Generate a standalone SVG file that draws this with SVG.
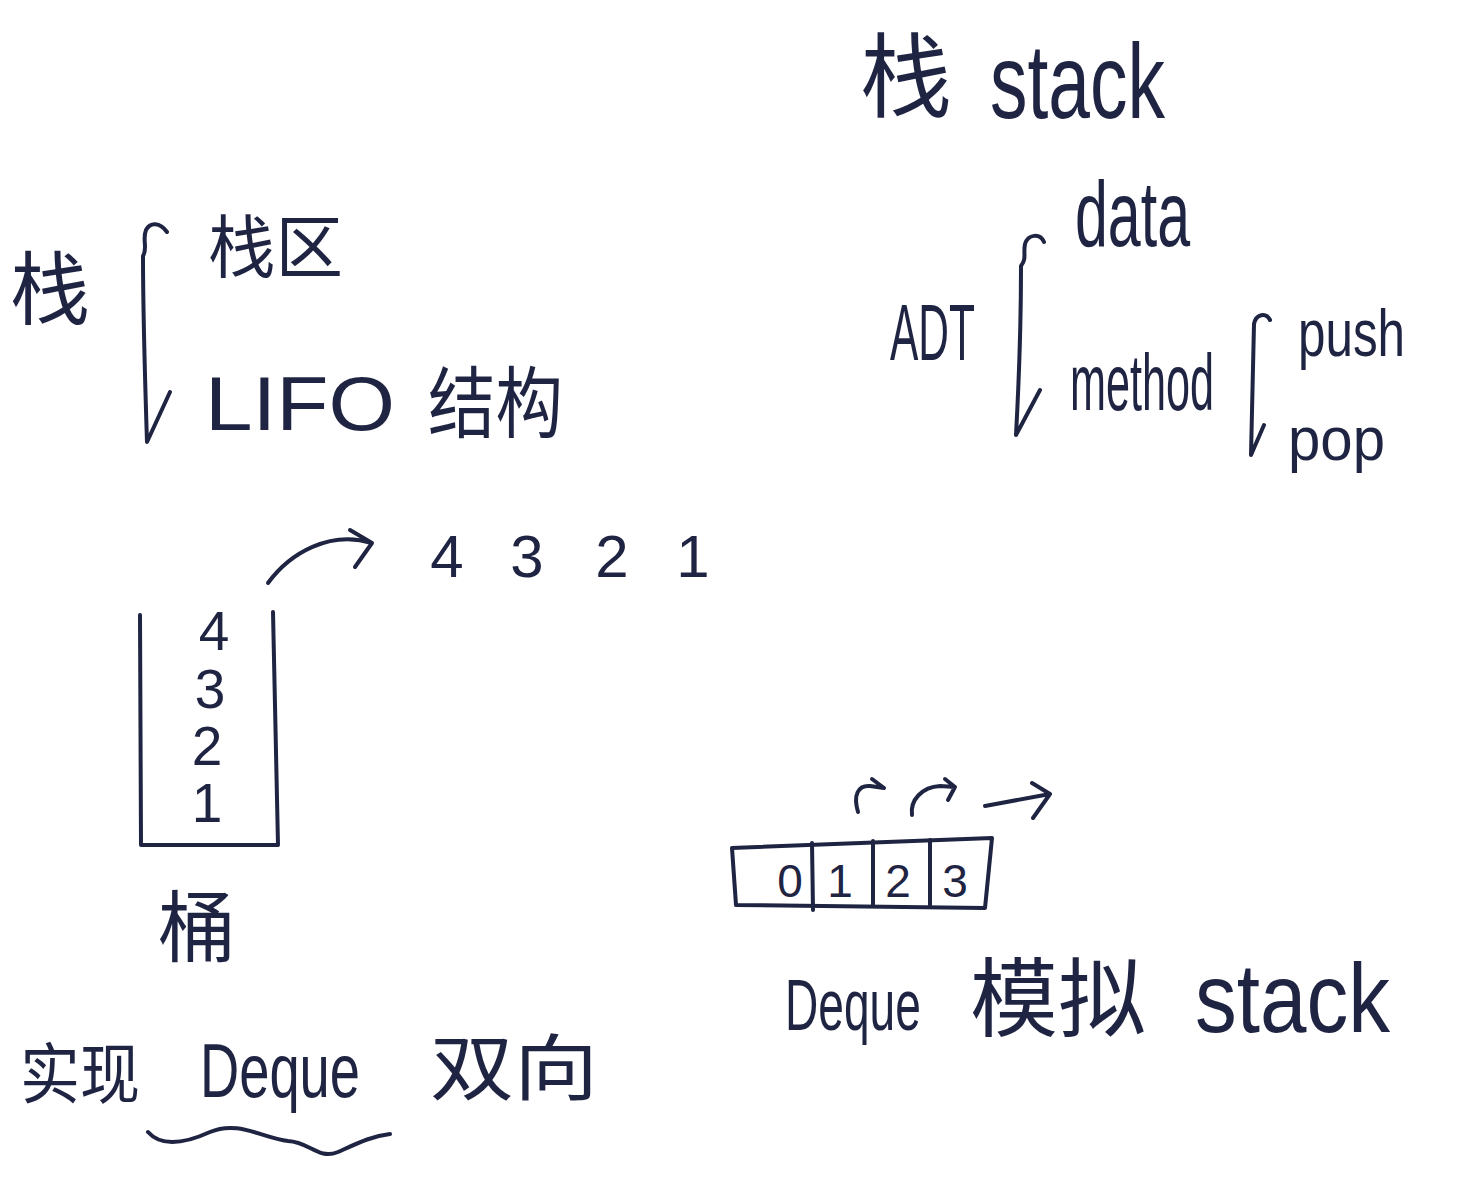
<svg xmlns="http://www.w3.org/2000/svg" width="1462" height="1202" viewBox="0 0 1462 1202">
<style>
.t{font-family:"Liberation Sans","Noto Sans CJK SC",sans-serif;fill:#1f2442}
.c{font-family:"Noto Sans CJK SC","Noto Sans CJK TC",sans-serif;fill:#1f2442}
.ln{fill:none;stroke:#1f2442;stroke-width:4;stroke-linecap:round;stroke-linejoin:round}
</style>
<rect width="1462" height="1202" fill="#ffffff"/>
<g id="title">
<text class="c" x="860" y="110" font-size="92">栈</text>
<text class="t" x="990" y="118" font-size="105" textLength="175" lengthAdjust="spacingAndGlyphs">stack</text>
</g>
<g id="stack-def">
<text class="c" x="10" y="318" font-size="80">栈</text>
<text class="c" x="208" y="272" font-size="68" textLength="135" lengthAdjust="spacingAndGlyphs">栈区</text>
<text class="t" x="205" y="430" font-size="76" textLength="190" lengthAdjust="spacingAndGlyphs">LIFO</text>
<text class="c" x="428" y="432" font-size="78" textLength="135" lengthAdjust="spacingAndGlyphs">结构</text>
</g>
<g id="adt">
<text class="t" x="890" y="360" font-size="80" textLength="85" lengthAdjust="spacingAndGlyphs">ADT</text>
<text class="t" x="1075" y="246" font-size="92" textLength="115" lengthAdjust="spacingAndGlyphs">data</text>
<text class="t" transform="translate(1070,410) scale(0.54,1)" font-size="80">method</text>
<text class="t" x="1298" y="356" font-size="66" textLength="107" lengthAdjust="spacingAndGlyphs">push</text>
<text class="t" x="1288" y="460" font-size="62" textLength="97" lengthAdjust="spacingAndGlyphs">pop</text>
</g>
<g id="sequence">
<text class="t" font-size="60" text-anchor="middle" y="577"><tspan x="447">4</tspan><tspan x="527">3</tspan><tspan x="612">2</tspan><tspan x="693">1</tspan></text>
</g>
<g id="bucket">
<path class="ln" d="M140,615 L141,845 L278,845 L273,612"/>
<text class="t" font-size="55" text-anchor="middle"><tspan x="214" y="650">4</tspan><tspan x="210" y="708">3</tspan><tspan x="207" y="765">2</tspan><tspan x="207" y="822">1</tspan></text>
<text class="c" x="158" y="956" font-size="78">桶</text>
</g>
<g id="deque-note">
<text class="c" x="20" y="1098" font-size="66" textLength="120" lengthAdjust="spacingAndGlyphs">实现</text>
<text class="t" x="200" y="1097" font-size="76" textLength="160" lengthAdjust="spacingAndGlyphs">Deque</text>
<text class="c" x="430" y="1094" font-size="72" textLength="168" lengthAdjust="spacingAndGlyphs">双向</text>
</g>
<g id="array">
<path class="ln" d="M732,848 L992,838 L985,908 L736,905 Z"/>
<path class="ln" d="M812,843 L813,910 M873,841 L873,905 M930,840 L930,905"/>
<text class="t" font-size="46" text-anchor="middle" y="897"><tspan x="790">0</tspan><tspan x="840">1</tspan><tspan x="898">2</tspan><tspan x="955">3</tspan></text>
</g>
<g id="deque-stack">
<text class="t" transform="translate(785,1030) scale(0.64,1)" font-size="72">Deque</text>
<text class="c" x="970" y="1030" font-size="86" textLength="176" lengthAdjust="spacingAndGlyphs">模拟</text>
<text class="t" x="1195" y="1032" font-size="98" textLength="195" lengthAdjust="spacingAndGlyphs">stack</text>
</g>
<g id="connectors">
<path class="ln" d="M167,232 C160,222 150,222 146,230 C142,240 148,248 143,256 C143,310 145,380 147,442 L170,392"/>
<path class="ln" d="M1044,242 C1040,233 1028,234 1025,244 C1023,254 1027,258 1021,266 C1021,320 1019,380 1016,435 L1040,390"/>
<path class="ln" d="M1270,320 C1266,312 1256,314 1254,324 L1251,455 L1264,425"/>
<path class="ln" d="M268,583 C290,553 330,530 372,543 M350,530 L372,543 L355,567"/>
<path class="ln" d="M858,812 C853,795 858,785 870,786 L884,788 M872,779 L884,788"/>
<path class="ln" d="M912,815 C910,800 922,787 940,786 L955,787 M945,779 L955,787 L948,800"/>
<path class="ln" d="M985,806 L1050,794 M1032,783 L1050,794 L1033,818"/>
<path class="ln" d="M148,1132 C162,1148 188,1142 210,1132 C238,1120 262,1138 288,1141 C310,1142 318,1160 338,1152 C358,1143 372,1136 390,1134"/>
</g>
</svg>
